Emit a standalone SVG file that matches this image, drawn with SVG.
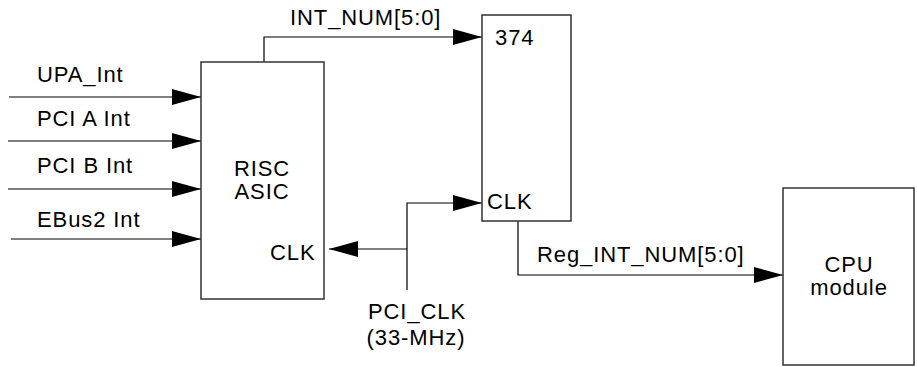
<svg xmlns="http://www.w3.org/2000/svg" width="917" height="367" viewBox="0 0 917 367">
<style>
  text { font-family: "Liberation Sans", Arial, sans-serif; font-size: 22px; fill: #000; letter-spacing: 0.9px; }
  .box { fill: #fff; stroke: #333; stroke-width: 1.5; }
  .wire { fill: none; stroke: #000; stroke-width: 1.2; }
  .mid { text-anchor: middle; }
</style>
<defs>
  <marker id="arr" markerUnits="userSpaceOnUse" markerWidth="30" markerHeight="16" refX="29" refY="8" orient="auto">
    <path d="M0,0 L29,8 L0,16 Z" fill="#000"/>
  </marker>
</defs>
<g id="connectors">
  <line class="wire" x1="9" y1="97" x2="201" y2="97" marker-end="url(#arr)"/>
  <line class="wire" x1="8" y1="141" x2="201" y2="141" marker-end="url(#arr)"/>
  <line class="wire" x1="8" y1="189" x2="201" y2="189" marker-end="url(#arr)"/>
  <line class="wire" x1="11" y1="239" x2="201" y2="239" marker-end="url(#arr)"/>
  <polyline class="wire" points="264,66 264,37 482,37" marker-end="url(#arr)"/>
  <polyline class="wire" points="407,290 407,203 482,203" marker-end="url(#arr)"/>
  <line class="wire" x1="407" y1="249" x2="329" y2="249" marker-end="url(#arr)"/>
  <polyline class="wire" points="518,221 518,275 783,275" marker-end="url(#arr)"/>
</g>
<g id="risc_asic">
  <rect class="box" x="201" y="62" width="123" height="237"/>
  <text class="mid" x="262" y="176">RISC</text>
  <text class="mid" x="262" y="199">ASIC</text>
  <text x="270" y="260">CLK</text>
</g>
<g id="reg374">
  <rect class="box" x="482" y="15" width="89" height="206"/>
  <text x="495" y="45">374</text>
  <text x="487" y="209">CLK</text>
</g>
<g id="cpu">
  <rect class="box" x="783" y="188" width="131" height="177"/>
  <text class="mid" x="849" y="272">CPU</text>
  <text class="mid" x="849" y="295">module</text>
</g>
<g id="labels">
  <text x="37" y="82">UPA_Int</text>
  <text x="37" y="126">PCI A Int</text>
  <text x="37" y="173">PCI B Int</text>
  <text x="37" y="227">EBus2 Int</text>
  <text x="290" y="25">INT_NUM[5:0]</text>
  <text x="537" y="262">Reg_INT_NUM[5:0]</text>
  <text class="mid" x="417" y="319">PCI_CLK</text>
  <text class="mid" x="416" y="345">(33-MHz)</text>
</g>
</svg>
